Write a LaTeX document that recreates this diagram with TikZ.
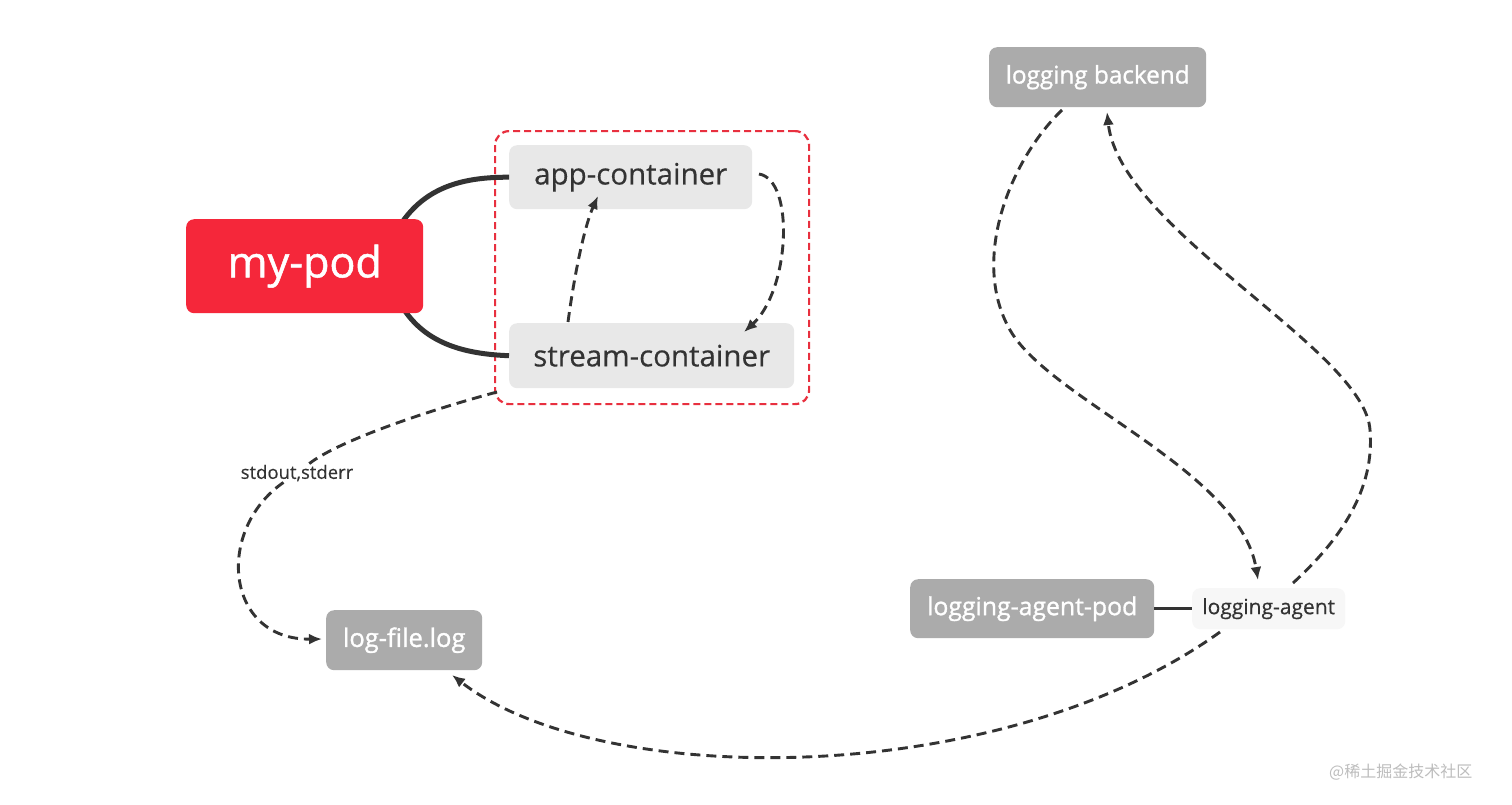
\documentclass[tikz,border=0pt]{standalone}
\usepackage{fontspec}
\setmainfont{Open Sans}
\newfontfamily\semib[FakeBold=1.2]{Open Sans}
\newfontfamily\medf[FakeBold=0.4]{Open Sans}
\newfontfamily\cjk{Noto Sans CJK SC}
\usetikzlibrary{arrows.meta,calc}
\definecolor{podred}{HTML}{F5273A}
\definecolor{grpred}{HTML}{E8303F}
\definecolor{lightbox}{HTML}{E8E8E8}
\definecolor{graybox}{HTML}{ABABAB}
\definecolor{agentbox}{HTML}{F7F7F7}
\definecolor{ink}{HTML}{333333}
\definecolor{wm}{HTML}{BDBDBD}
\tikzset{
  basebox/.style={anchor=north west, rounded corners=8pt, inner sep=0pt},
  podbox/.style={basebox, fill=podred, text=white, font=\semib\fontsize{43}{48}\selectfont},
  ctrbox/.style={basebox, fill=lightbox, text=ink, font=\medf\fontsize{29.5}{33}\selectfont},
  grybox/.style={basebox, fill=graybox, text=white, font=\semib\fontsize{24.3}{28}\selectfont},
  agtbox/.style={basebox, fill=agentbox, text=ink, font=\medf\fontsize{21}{24}\selectfont},
  grpbox/.style={anchor=north west, draw=grpred, line width=2.2pt, dash pattern=on 7pt off 4pt, rounded corners=14pt, inner sep=0pt},
  solidlink/.style={draw=ink, line width=5pt},
  thinlink/.style={draw=ink, line width=3pt},
  dashlink/.style={draw=ink, line width=2.9pt, dash pattern=on 10pt off 6pt, -{Latex[length=13pt,width=11pt]}},
}
\begin{document}
\begin{tikzpicture}[x=1pt,y=-1pt]
\useasboundingbox[fill=white] (0,0) rectangle (1512,804);
% group box
\node[grpbox, minimum width=314pt, minimum height=273pt] (grp) at (494,130) {};
% connectors from my-pod (behind nodes)
\coordinate (podtop) at (403,221);
\coordinate (podbot) at (405,311);
\node[ctrbox, minimum width=243pt, minimum height=64pt] (app) at (509,145) {app-container};
\node[ctrbox, minimum width=285pt, minimum height=65pt] (stream) at (509,323) {stream-container};
\draw[solidlink] (podtop) .. controls (428,186) and (465,177) .. (app.west);
\draw[solidlink] (podbot) .. controls (428,344) and (465,354) .. (stream.west);
\node[podbox, minimum width=237pt, minimum height=94pt] (pod) at (186,219) {my-pod};
% other nodes
\node[grybox, minimum width=156pt, minimum height=60pt] (logfile) at (326,610) {\fontsize{25.5}{29}\selectfont log-file.log};
\node[grybox, minimum width=217pt, minimum height=60pt] (backend) at (989,47) {logging backend};
\node[grybox, minimum width=244pt, minimum height=59pt] (agentpod) at (910,579) {\fontsize{24.8}{29}\selectfont logging-agent-pod};
\node[agtbox, minimum width=153pt, minimum height=41pt] (agent) at (1192,588) {logging-agent};
\node[font=\medf\fontsize{18.5}{22}\selectfont, text=ink, fill=white, inner sep=1pt] (lbl) at (297,473) {stdout,stderr};
\node[font=\cjk\fontsize{16}{19}\selectfont, text=wm, anchor=west, inner sep=0pt] (wmark) at (1329,772) {@稀土掘金技术社区};
% coordinates for free ends
\coordinate (s1) at (568,322);
\coordinate (a1) at (598,196);
\coordinate (a2) at (759,174);
\coordinate (s2) at (744,332);
\coordinate (s3) at (497,392);
\coordinate (lf1) at (322,639);
\coordinate (g1) at (1220,632);
\coordinate (lf2) at (452,675);
\coordinate (b1) at (1062,110);
\coordinate (ag1) at (1258,580);
\coordinate (ag2) at (1293,583);
\coordinate (b2) at (1107,112);
% dashed connectors
\draw[dashlink] (s1) .. controls (575,270) and (585,225) .. (a1);
\draw[dashlink] (a2) .. controls (795,180) and (790,290) .. (s2);
\draw[dashlink, -] (s3) .. controls (430,410) and (340,440) .. (lbl);
\draw[dashlink] (lbl) .. controls (215,530) and (225,640) .. (lf1);
\draw[dashlink] (g1) .. controls (1000,790) and (600,790) .. (lf2);
\draw[dashlink] (b1) .. controls (1010,160) and (970,260) .. (1010,330) .. controls (1050,400) and (1240,470) .. (ag1);
\draw[dashlink] (ag2) .. controls (1340,540) and (1375,490) .. (1370,430) .. controls (1365,350) and (1120,230) .. (b2);
% solid link agent pod - agent
\draw[thinlink] (agentpod.east) -- (agent.west);
\end{tikzpicture}
\end{document}
